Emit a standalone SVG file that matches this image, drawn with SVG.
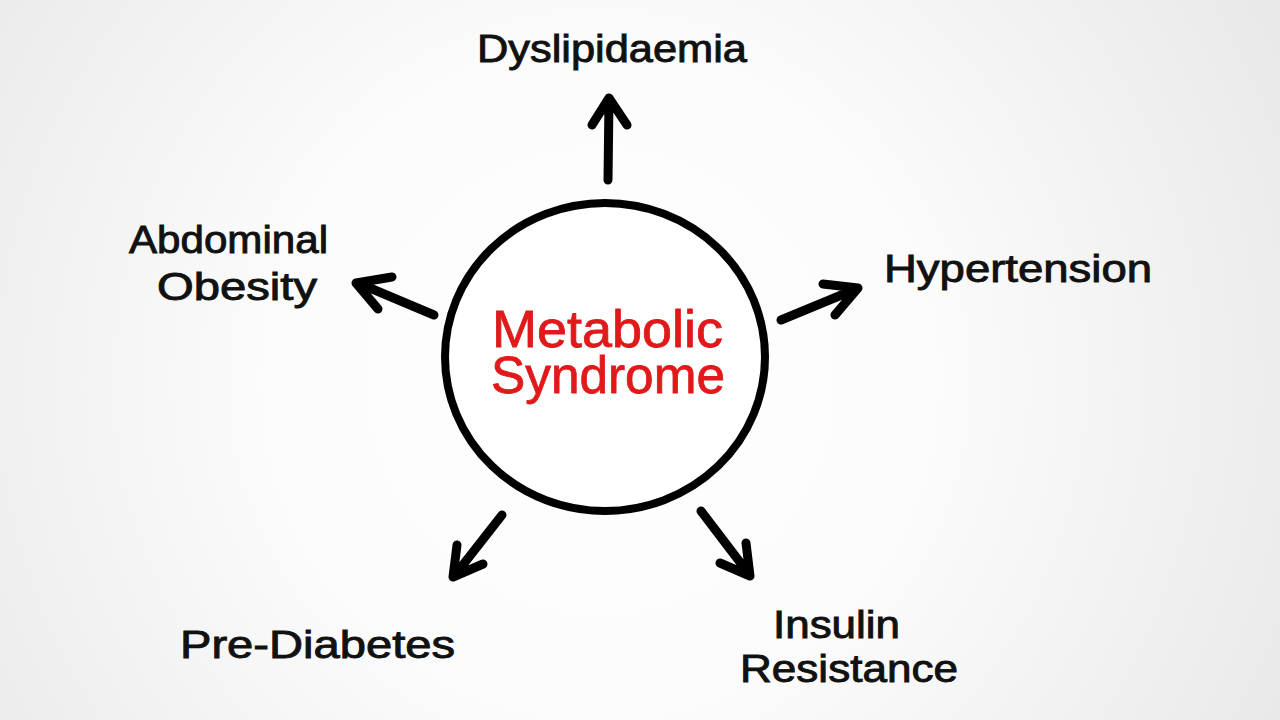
<svg xmlns="http://www.w3.org/2000/svg" width="1280" height="720" viewBox="0 0 1280 720">
  <defs>
    <radialGradient id="bg" cx="600" cy="380" r="760" gradientUnits="userSpaceOnUse">
      <stop offset="0" stop-color="#ffffff"/>
      <stop offset="0.45" stop-color="#fbfbfb"/>
      <stop offset="1" stop-color="#e9e9e9"/>
    </radialGradient>
  </defs>
  <style>
    .arrow { fill: none; stroke: #000; stroke-width: 9; stroke-linecap: round; stroke-linejoin: round; }
    .label { font-family: "Liberation Sans", "DejaVu Sans", sans-serif; font-size: 38px; fill: #111; stroke: #111; stroke-width: 0.9; }
    .center { font-family: "Liberation Sans", "DejaVu Sans", sans-serif; font-size: 52px; fill: #e0191b; stroke: #e0191b; stroke-width: 0.8; }
  </style>
  <rect width="1280" height="720" fill="url(#bg)"/>

  <g id="connectors">
    <path class="arrow" d="M608,180 L609,99 M592,125 L609,98 L627,125"/>
    <path class="arrow" d="M434,315 L358,283 M392,277 L356,283 L378,309"/>
    <path class="arrow" d="M781,320 L856,289 M823,284 L858,288 L835,315"/>
    <path class="arrow" d="M502,515 L455,575 M457,545 L453,577 L483,564"/>
    <path class="arrow" d="M701,511 L749,574 M746,543 L750,576 L720,563"/>
  </g>

  <g id="metabolic-syndrome">
    <ellipse cx="605" cy="357" rx="160" ry="154" fill="#ffffff" stroke="#000" stroke-width="8"/>
    <text class="center" x="492" y="347" textLength="231" lengthAdjust="spacingAndGlyphs">Metabolic</text>
    <text class="center" x="491" y="393" textLength="234" lengthAdjust="spacingAndGlyphs">Syndrome</text>
  </g>

  <g id="dyslipidaemia">
    <text class="label" x="477" y="62" textLength="270" lengthAdjust="spacingAndGlyphs">Dyslipidaemia</text>
  </g>

  <g id="abdominal-obesity">
    <text class="label" x="129" y="253" textLength="199" lengthAdjust="spacingAndGlyphs">Abdominal</text>
    <text class="label" x="157" y="300" textLength="160" lengthAdjust="spacingAndGlyphs">Obesity</text>
  </g>

  <g id="hypertension">
    <text class="label" x="884" y="282" textLength="268" lengthAdjust="spacingAndGlyphs">Hypertension</text>
  </g>

  <g id="pre-diabetes">
    <text class="label" x="180" y="658" textLength="275" lengthAdjust="spacingAndGlyphs">Pre-Diabetes</text>
  </g>

  <g id="insulin-resistance">
    <text class="label" x="773" y="638" textLength="127" lengthAdjust="spacingAndGlyphs">Insulin</text>
    <text class="label" x="740" y="682" textLength="218" lengthAdjust="spacingAndGlyphs">Resistance</text>
  </g>
</svg>
